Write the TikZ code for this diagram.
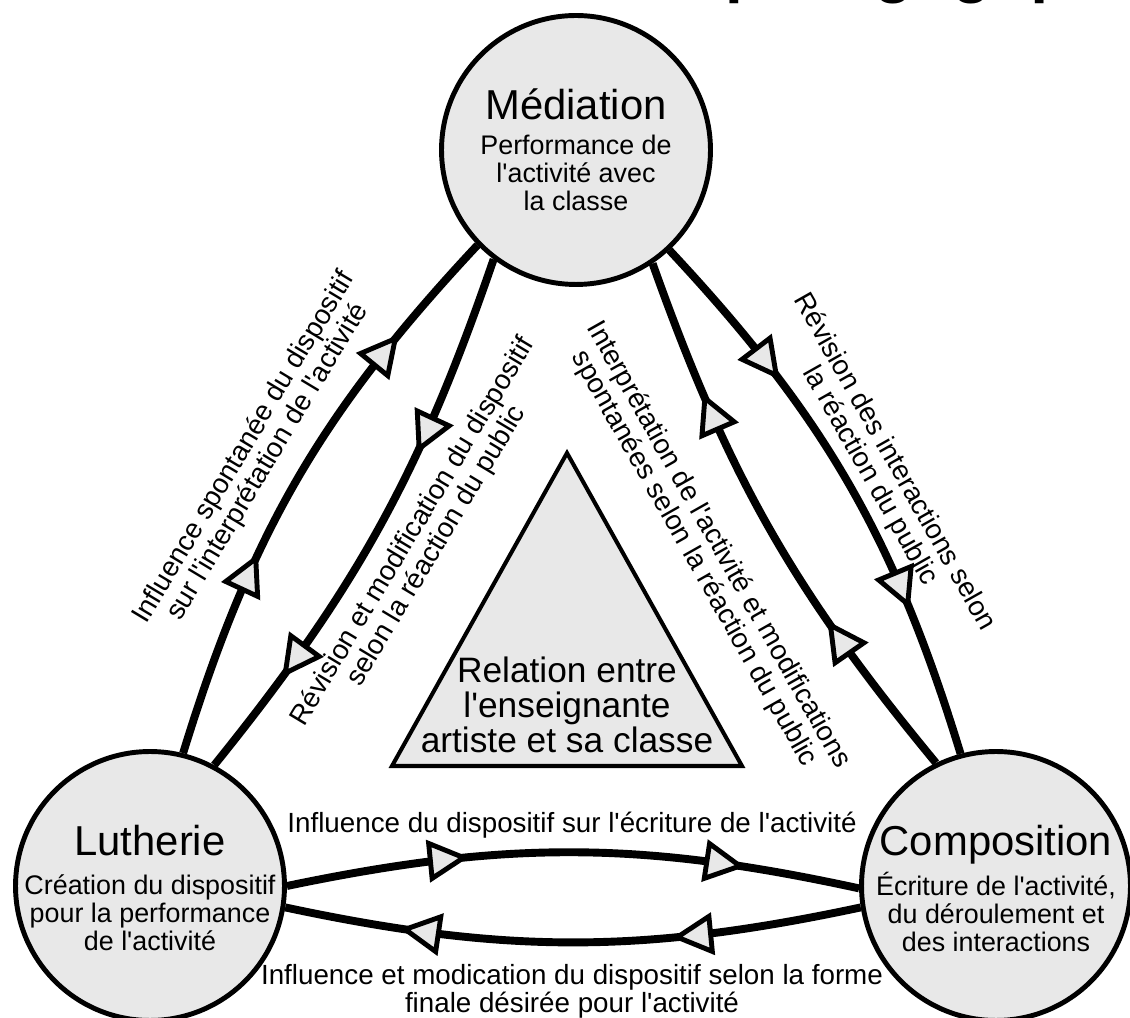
\documentclass[tikz,border=0pt]{standalone}
\usepackage{fontspec}
\setmainfont{Liberation Sans}[Ligatures=TeXOff]
\usepackage{xcolor}
\usetikzlibrary{decorations.markings, calc}

\definecolor{fillgray}{HTML}{E8E8E8}
\newcommand{\flowtip}{\filldraw[fill=fillgray, line width=2.8pt] (0pt,0pt) -- (-19pt,10pt) -- (-19pt,-10pt) -- cycle;}

\begin{document}
\begin{tikzpicture}[
        x=0.02cm, y=0.02cm,
        pole/.style={circle, draw, line width=2.8pt, fill=fillgray, minimum size=5.38cm, inner sep=0pt},
        poletitle/.style={anchor=base, font=\fontsize{23.8pt}{28pt}\selectfont},
        poletext/.style={align=center, font=\fontsize{15.3pt}{15.9pt}\selectfont},
        flow/.style={line width=4.5pt},
        flowtext/.style={align=center, font=\fontsize{15.8pt}{15.9pt}\selectfont},
        heads/.style 2 args={postaction={decorate, decoration={markings,
            mark=at position #1 with {\flowtip},
            mark=at position #2 with {\flowtip}}}}
    ]
    \useasboundingbox (0,0) rectangle (1130,1018);

    \node[anchor=base east, font=\fontsize{36.3pt}{40pt}\selectfont\bfseries] (title) at (1129,1027) {pédagogique};

    \node[pole] (med) at (576,868) {};
    \node[pole] (luth) at (150,132) {};
    \node[pole] (comp) at (996,132) {};

    \node[poletitle] (medname) at ($(med)+(0,30)$) {Médiation};
    \node[poletext] (medtext) at ($(med)+(0,-23)$) {Performance de\\l'activité avec\\la classe};
    \node[poletitle] (luthname) at ($(luth)+(0,30)$) {Lutherie};
    \node[poletext] (luthtext) at ($(luth)+(0,-27)$) {Création du dispositif\\pour la performance\\de l'activité};
    \node[poletitle] (compname) at ($(comp)+(0,30)$) {Composition};
    \node[poletext] (comptext) at ($(comp)+(0,-26)$) {Écriture de l'activité,\\du déroulement et\\des interactions};

    \coordinate (apex) at (567,565);
    \draw[line width=2.3pt, fill=fillgray] (apex) -- (392,252) -- (742,252) -- cycle;
    \node[align=center, font=\fontsize{20.1pt}{19.8pt}\selectfont] (relation) at (567,313) {Relation entre\\l'enseignante\\artiste et sa classe};

    \draw[flow, heads={0.35}{0.79}] (luth.76) to[bend left=13] (med.224);
    \draw[flow, heads={0.35}{0.8}] (med.233) to[bend left=10] (luth.62);
    \draw[flow, heads={0.3}{0.75}] (comp.116) to[bend left=10] (med.304);
    \draw[flow, heads={0.28}{0.73}] (med.313) to[bend left=13] (comp.105);
    \draw[flow, heads={0.31}{0.79}] (luth.0) to[bend left=12] (comp.181);
    \draw[flow, heads={0.32}{0.79}] (comp.189) to[bend left=12] (luth.-9);

    \node[flowtext, rotate=59] (influence) at (256,563) {Influence spontanée du dispositif\\sur l'interprétation de l'activité};
    \node[flowtext, rotate=59] (revision) at (425,479) {Révision et modification du dispositif\\selon la réaction du public};
    \node[flowtext, rotate=-60.5] (interpretation) at (706,466) {Interprétation de l'activité et modifications\\spontanées selon la réaction du public};
    \node[flowtext, rotate=-60.5] (interactions) at (882,549) {Révision des interactions selon\\la réaction du public};
    \node[flowtext, anchor=base] (ecriture) at (572,185) {Influence du dispositif sur l'écriture de l'activité};
    \node[flowtext] (forme) at (572,27) {Influence et modication du dispositif selon la forme\\finale désirée pour l'activité};

\end{tikzpicture}
\end{document}
